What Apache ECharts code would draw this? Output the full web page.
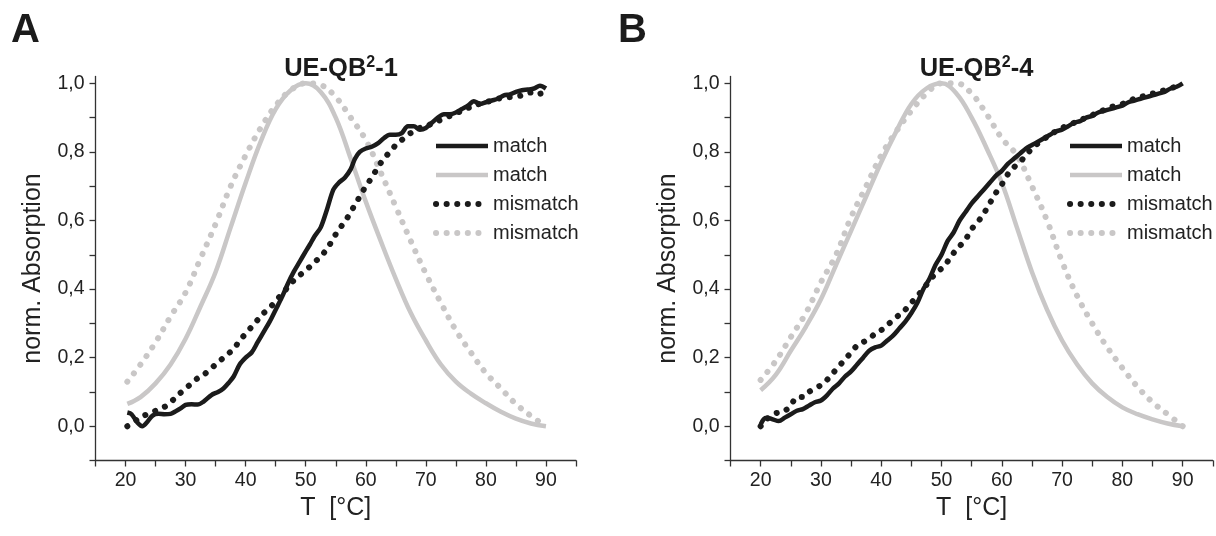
<!DOCTYPE html>
<html><head><meta charset="utf-8">
<script src="https://cdn.jsdelivr.net/npm/echarts@6/dist/echarts.min.js"></script>
<style>html,body{margin:0;padding:0;background:#fff}#c{width:1216px;height:536px}</style>
</head><body><div id="c"></div>
<script>
// ---------- Panel A : UE-QB2-1 ----------
const A_matchBlack_T = [20.3,21,22,22.8,23.5,24.5,25.5,26.5,27.5,28.5,29.1,30,31,32,33,34.3,35.4,36.3,37.2,38,39,40,41,42,43,44,45,46,47,48,49,50,50.7,51.5,52.5,53.5,54.6,55.5,56.5,57.5,58.2,59,60,61,62,63,64,65,66,67,68,69,70,71,72,73,74,75,76,77,78,79,80,81,82,83,84,85,86,87,88,89,90];
const A_matchBlack_Y = [0.04,0.035,0.01,0.0,0.01,0.031,0.036,0.035,0.036,0.045,0.051,0.062,0.064,0.063,0.072,0.091,0.1,0.11,0.127,0.145,0.18,0.2,0.215,0.245,0.275,0.305,0.34,0.375,0.415,0.45,0.48,0.51,0.53,0.555,0.58,0.63,0.69,0.71,0.725,0.75,0.78,0.8,0.81,0.815,0.825,0.84,0.85,0.85,0.855,0.875,0.875,0.865,0.87,0.885,0.9,0.91,0.91,0.915,0.925,0.935,0.948,0.94,0.945,0.95,0.955,0.965,0.968,0.975,0.98,0.982,0.985,0.993,0.985];

const A_matchGray_T = [20.3,22.5,25,27.5,30,32.5,35,37.5,40,42.5,45,47.5,50,52.5,55,57.5,60,62.5,65,67.5,70,72.5,75,77.5,80,82.5,85,87.5,90];
const A_matchGray_Y = [0.065,0.085,0.125,0.18,0.255,0.35,0.45,0.58,0.71,0.83,0.925,0.98,1.0,0.975,0.9,0.78,0.655,0.54,0.43,0.33,0.25,0.18,0.13,0.095,0.067,0.042,0.022,0.008,0.0];

const A_mismatchBlack_T = [20.3,22,23,24,25,26,27,28,29,30,31,32,33,34,35,36,37,38,39,40,41,42,43,44,45,46,47,48,49,50,51,52,53,54,55,56,57,58,59,60,61,62,63,64,65,66,67,68,69,70,72,74,76,78,80,82,84,86,88,89,90];
const A_mismatchBlack_Y = [0.0,0.02,0.03,0.038,0.045,0.052,0.062,0.078,0.095,0.11,0.125,0.14,0.15,0.165,0.18,0.195,0.21,0.225,0.25,0.27,0.29,0.31,0.33,0.345,0.365,0.385,0.405,0.425,0.44,0.455,0.47,0.487,0.505,0.53,0.56,0.585,0.61,0.64,0.67,0.7,0.725,0.755,0.78,0.8,0.82,0.835,0.85,0.86,0.87,0.875,0.89,0.905,0.92,0.935,0.945,0.955,0.96,0.965,0.975,0.97,0.98];

const A_mismatchGray_T = [20.3,22.5,25,27.5,30,32.5,35,37.5,40,42.5,45,47.5,50,52.5,55,57.5,60,62.5,65,67.5,70,72.5,75,77.5,80,82.5,85,87.5,90];
const A_mismatchGray_Y = [0.13,0.18,0.245,0.32,0.39,0.49,0.59,0.70,0.79,0.87,0.935,0.98,1.0,0.995,0.96,0.9,0.835,0.74,0.64,0.54,0.445,0.36,0.28,0.215,0.155,0.11,0.065,0.03,0.0];

// ---------- Panel B : UE-QB2-4 ----------
const B_matchBlack_T = [20,20.5,21,22,23,24,25,26,27,28,29,30,31,32,33,34,35,36,37,38,39,40,41,42,43,44,45,46,47,48,49,50,51,52,53,54,55,56,57,58,59,60,61,62,63,64,65,66,67,68,69,70,71,72,73,74,75,76,77,78,79,80,81,82,83,84,85,86,87,88,89,90];
const B_matchBlack_Y = [0.005,0.02,0.025,0.02,0.015,0.025,0.035,0.045,0.05,0.06,0.07,0.075,0.09,0.11,0.125,0.145,0.16,0.18,0.2,0.22,0.23,0.235,0.25,0.265,0.285,0.305,0.33,0.36,0.4,0.43,0.47,0.5,0.54,0.565,0.6,0.625,0.65,0.67,0.69,0.71,0.73,0.745,0.765,0.78,0.795,0.81,0.82,0.83,0.84,0.85,0.86,0.865,0.875,0.885,0.89,0.9,0.905,0.915,0.92,0.925,0.93,0.935,0.945,0.95,0.955,0.96,0.965,0.97,0.975,0.985,0.99,1.0];

const B_matchGray_T = [20,22.5,25,27.5,30,32.5,35,37.5,40,42.5,45,47.5,50,52.5,55,57.5,60,62.5,65,67.5,70,72.5,75,77.5,80,82.5,85,87.5,90];
const B_matchGray_Y = [0.105,0.15,0.22,0.29,0.37,0.47,0.57,0.67,0.77,0.86,0.94,0.985,1.0,0.97,0.9,0.81,0.71,0.58,0.45,0.34,0.25,0.18,0.125,0.085,0.055,0.035,0.02,0.008,0.0];

const B_mismatchBlack_T = [20,21,22,23,24,25,26,27,28,29,30,31,32,33,34,35,36,37,38,39,40,41,42,43,44,45,46,47,48,49,50,51,52,53,54,55,56,57,58,59,60,61,62,63,64,65,66,68,70,72,74,76,78,80,82,84,86,88,90];
const B_mismatchBlack_Y = [0.0,0.02,0.035,0.04,0.045,0.06,0.085,0.085,0.1,0.11,0.12,0.135,0.155,0.175,0.195,0.215,0.235,0.245,0.255,0.27,0.28,0.295,0.31,0.325,0.34,0.36,0.38,0.4,0.425,0.445,0.46,0.48,0.505,0.525,0.545,0.575,0.595,0.62,0.65,0.68,0.705,0.735,0.755,0.77,0.79,0.81,0.825,0.85,0.87,0.885,0.9,0.915,0.93,0.94,0.955,0.965,0.975,0.985,1.0];

const B_mismatchGray_T = [20,22.5,25,27.5,30,32.5,35,37.5,40,42.5,45,47.5,50,52.5,55,57.5,60,62.5,65,67.5,70,72.5,75,77.5,80,82.5,85,87.5,90];
const B_mismatchGray_Y = [0.135,0.19,0.26,0.33,0.42,0.5,0.61,0.7,0.79,0.86,0.92,0.97,1.0,1.0,0.97,0.91,0.84,0.79,0.7,0.6,0.48,0.38,0.3,0.23,0.17,0.115,0.07,0.035,0.0];

// axis ticks / labels
const xTickValues = [15,20,25,30,35,40,45,50,55,60,65,70,75,80,85,90,95];
const xLabelValues = [20,30,40,50,60,70,80,90];
const yTickValues = [-0.1,0,0.1,0.2,0.3,0.4,0.5,0.6,0.7,0.8,0.9,1.0];
const yLabelValues = [0,0.2,0.4,0.6,0.8,1.0];
const panelTitles = ['UE-QB{s|2}-1', 'UE-QB{s|2}-4'];
const panelLetters = ['A', 'B'];
const legendNames = ['match', 'match ', 'mismatch', 'mismatch '];

const zip = (xs, ys) => xs.map((x, i) => [x, ys[i]]);
const FONT = '"Liberation Sans", Arial, sans-serif';
const BLACK = '#1b1b1b', GRAY = '#c9c7c7';

const grids = [
  {left: 95.5, width: 480.5, top: 76.5, height: 384},
  {left: 730.5, width: 482.3, top: 76.5, height: 384}
];

function xAxis(i) {
  return {
    gridIndex: i, type: 'value', min: 15, max: 95,
    name: 'T  [°C]', nameLocation: 'middle', nameGap: 31,
    nameTextStyle: {fontSize: 25, color: '#222', fontFamily: FONT},
    axisLine: {onZero: false, lineStyle: {color: '#333', width: 1.3}},
    axisTick: {show: true, inside: false, length: 6, customValues: xTickValues, lineStyle: {color: '#333', width: 1.3}},
    axisLabel: {customValues: xLabelValues, fontSize: 19.5, color: '#222', fontFamily: FONT, margin: 10},
    splitLine: {show: false}
  };
}
function yAxis(i) {
  return {
    gridIndex: i, type: 'value', min: -0.1, max: 1.02,
    name: 'norm. Absorption', nameLocation: 'middle', nameGap: 50,
    nameTextStyle: {fontSize: 25, color: '#222', fontFamily: FONT},
    axisLine: {show: true, onZero: false, lineStyle: {color: '#333', width: 1.3}},
    axisTick: {show: true, inside: false, length: 6, customValues: yTickValues, lineStyle: {color: '#333', width: 1.3}},
    axisLabel: {customValues: yLabelValues, fontSize: 19.5, color: '#222', fontFamily: FONT, margin: 11,
      formatter: v => v.toFixed(1).replace('.', ',')},
    splitLine: {show: false}
  };
}
function seriesFor(i, mb, mg, xb, xg) {
  const base = {type: 'line', xAxisIndex: i, yAxisIndex: i, symbol: 'none', showSymbol: false, animation: false, z: 2};
  return [
    Object.assign({}, base, {name: legendNames[1], data: mg, smooth: 0.4, lineStyle: {color: GRAY, width: 4.5}, itemStyle: {color: GRAY}, z: 1}),
    Object.assign({}, base, {name: legendNames[3], data: xg, smooth: 0.4, lineStyle: {color: GRAY, width: 6, type: [0.1, 10.5], cap: 'round'}, itemStyle: {color: GRAY}, z: 1}),
    Object.assign({}, base, {name: legendNames[2], data: xb, smooth: 0.3, lineStyle: {color: BLACK, width: 6, type: [0.1, 10.5], cap: 'round'}, itemStyle: {color: BLACK}}),
    Object.assign({}, base, {name: legendNames[0], data: mb, smooth: 0.3, lineStyle: {color: BLACK, width: 4.5}, itemStyle: {color: BLACK}, z: 3})
  ];
}
function legend(left) {
  return {
    orient: 'vertical', left: left, top: 131, itemWidth: 52, itemHeight: 14, itemGap: 9,
    data: legendNames, selectedMode: false,
    formatter: n => n.trim(),
    itemStyle: {opacity: 0, borderWidth: 0},
    lineStyle: {width: 'inherit', type: 'inherit', cap: 'inherit', dashOffset: 'inherit'},
    textStyle: {fontSize: 20, color: '#222', fontFamily: FONT}
  };
}
const titleRich = {
  fontSize: 25.5, fontWeight: 'bold', color: '#1b1b1b', fontFamily: FONT, lineHeight: 28,
  rich: {s: {fontSize: 16, fontWeight: 'bold', color: '#1b1b1b', fontFamily: FONT, verticalAlign: 'top', lineHeight: 28, padding: [0, 0, 9, 0]}}
};

const chart = echarts.init(document.getElementById('c'), null, {renderer: 'canvas'});
chart.setOption({
  backgroundColor: '#fff',
  animation: false,
  title: [
    {text: panelLetters[0], left: 6, top: 6, textStyle: {fontSize: 40, fontWeight: 'bold', color: '#1b1b1b', fontFamily: FONT}},
    {text: panelLetters[1], left: 613, top: 6, textStyle: {fontSize: 40, fontWeight: 'bold', color: '#1b1b1b', fontFamily: FONT}},
    {text: panelTitles[0], left: 336, top: 50, textAlign: 'center', textStyle: titleRich},
    {text: panelTitles[1], left: 971.5, top: 50, textAlign: 'center', textStyle: titleRich}
  ],
  legend: [legend(428), legend(1062)],
  grid: grids,
  xAxis: [xAxis(0), xAxis(1)],
  yAxis: [yAxis(0), yAxis(1)],
  series: [
    ...seriesFor(0, zip(A_matchBlack_T, A_matchBlack_Y), zip(A_matchGray_T, A_matchGray_Y), zip(A_mismatchBlack_T, A_mismatchBlack_Y), zip(A_mismatchGray_T, A_mismatchGray_Y)),
    ...seriesFor(1, zip(B_matchBlack_T, B_matchBlack_Y), zip(B_matchGray_T, B_matchGray_Y), zip(B_mismatchBlack_T, B_mismatchBlack_Y), zip(B_mismatchGray_T, B_mismatchGray_Y))
  ]
});
</script>
</body></html>
